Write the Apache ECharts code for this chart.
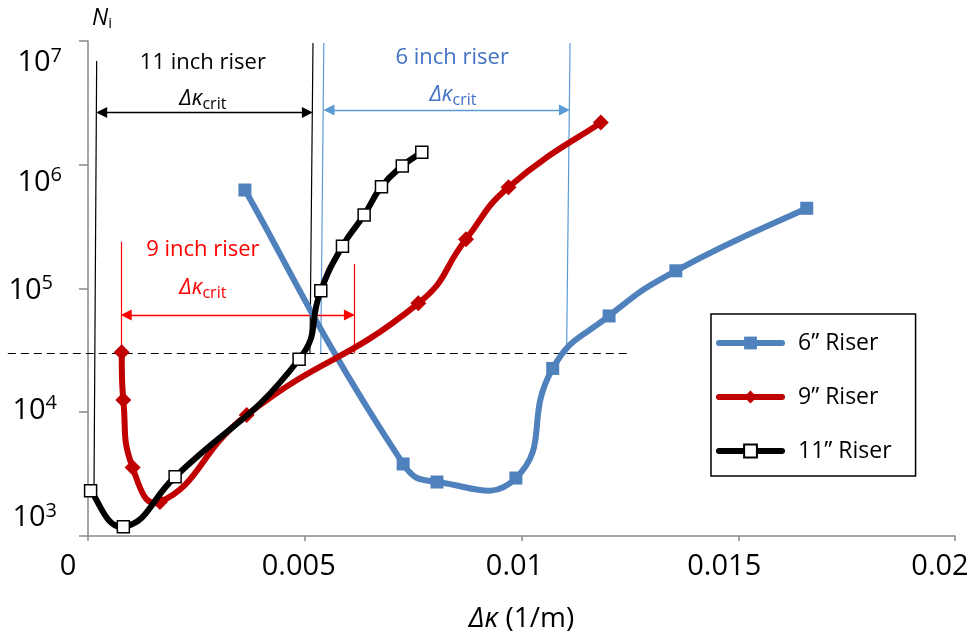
<!DOCTYPE html>
<html><head><meta charset="utf-8">
<script src="https://cdn.jsdelivr.net/npm/echarts@6/dist/echarts.min.js"></script>
<style>html,body{margin:0;padding:0;background:#fff}#c{width:973px;height:641px}</style>
</head><body><div id="c"></div>
<script>
const FONT = '"Open Sans", sans-serif';

// ---------- data ----------
const xTickLabels = ['0', '0.005', '0.01', '0.015', '0.02'];
const yTickExponents = ['3', '4', '5', '6', '7'];   // tick labels are 10^e

const seriesNames = ['6\u201D Riser', '9\u201D Riser', '11\u201D Riser'];

const riser6X = [0.00362, 0.00727, 0.00805, 0.00987, 0.01072, 0.01202, 0.01356, 0.01658];
const riser6N = [625000, 3820, 2730, 2940, 22600, 60000, 139000, 445000];

const riser9X = [0.000777, 0.000815, 0.00103, 0.00166, 0.00366, 0.00762, 0.00872, 0.00970, 0.01183];
const riser9N = [30500, 12560, 3570, 1885, 9500, 75900, 250000, 658000, 2190000];

const riser11X = [0.00006, 0.000815, 0.00201, 0.00487, 0.00537, 0.00587, 0.00637, 0.00677, 0.00725, 0.00770];
const riser11N = [2320, 1190, 3010, 26800, 95900, 220000, 393000, 665000, 977000, 1260000];

const thresholdN = 30000;
const thresholdX = [-0.00185, 0.01253];

// Δκ_crit guides: [xTop, NTop, xBottom, NBottom]
const guide11 = [[0.000200, 6.89e6, 0.000138, 2350], [0.00519, 9.64e6, 0.00512, 30000]];
const guide6  = [[0.00544, 9.64e6, 0.00537, 30000], [0.01112, 9.64e6, 0.01104, 30000]];
const guide9  = [[0.000761, 239000, 0.000761, 30000], [0.00615, 158000, 0.00615, 30000]];
// arrows: [xStart, xEnd, N]
const arrow11 = [0.000196, 0.00518, 2.64e6];
const arrow6  = [0.00544, 0.01111, 2.77e6];
const arrow9  = [0.000761, 0.00615, 61100];
// text anchors: [x, N]
const critTitles = ['11 inch riser', '6 inch riser', '9 inch riser'];
const titleAnchors = [[0.00265, 6.68e6], [0.0084, 7.3e6], [0.00265, 205000]];
const subAnchors   = [[0.00265, 3.4e6], [0.00842, 3.66e6], [0.00265, 101000]];

// ---------- styles ----------
const C6 = '#4F81BD', C9 = '#C00000', C11 = '#000000';
const G6 = '#5B9BD5', T6 = '#4472C4', G9 = '#FF0000', G11 = '#000000';
const xLabelShift = [-20, -6, -7, -14, -15];
const yLabelShift = {3: [-5, -18], 4: [-5, -2], 5: [-9, 2], 6: [0, 18], 7: [0, 22]}; // [dx, dy]
const arrowInset = 0.00012;
const smoothK = 0.5, endK = 0.25;

const pairs = (xs, ys) => xs.map((x, i) => [x, ys[i]]);

const xRich = {};
xLabelShift.forEach((s, i) => {
  xRich['x' + i] = {fontFamily: FONT, fontSize: 29, color: '#000',
    padding: [0, s < 0 ? -2 * s : 0, 0, s > 0 ? 2 * s : 0]};
});
const yRich = {};
const raise = 7;
yTickExponents.forEach(e => {
  const [dx, dy] = yLabelShift[e];
  const pt = dy > 0 ? 2 * dy : 0, pb = dy < 0 ? -2 * dy : 0;
  yRich['b' + e] = {fontFamily: FONT, fontSize: 29, color: '#000', padding: [pt, 0, pb, 0]};
  yRich['p' + e] = {fontFamily: FONT, fontSize: 20, color: '#000', padding: [pt, -dx, pb + 2 * raise, 0]};
});

const critRich = {
  t: {fontFamily: FONT, fontSize: 22},
  i: {fontFamily: FONT, fontSize: 22, fontStyle: 'italic'},
  s: {fontFamily: FONT, fontSize: 16, padding: [10, 0, 0, 0]}
};

function guideItems(arr, color) {
  return arr.map(g => ({coords: [[g[0], g[1]], [g[2], g[3]]], lineStyle: {color: color, width: 1.2, opacity: 1}}));
}
function arrowItem(a, color) {
  return {coords: [[a[0] + arrowInset, a[2]], [a[1] - arrowInset, a[2]]], lineStyle: {color: color, width: 1.3, opacity: 1}};
}
const textColors = [G11, T6, G9];
const textItems = [];
critTitles.forEach((t, i) => {
  textItems.push({value: titleAnchors[i], label: {formatter: '{t|' + t + '}', color: textColors[i]}});
  textItems.push({value: subAnchors[i], label: {formatter: '{i|\u0394\u03BA}{s|crit}', color: textColors[i]}});
});

// smooth curve through the data points (segment-length weighted Bezier), via the axes' scales
function controlPoints(pts) {
  const n = pts.length, after = [], before = [];
  const len = (a, b) => Math.hypot(b[0] - a[0], b[1] - a[1]);
  for (let i = 0; i < n; i++) {
    const p = pts[i];
    if (i === 0) {
      const q = pts[1];
      after.push([p[0] + (q[0] - p[0]) * endK, p[1] + (q[1] - p[1]) * endK]); before.push(p);
    } else if (i === n - 1) {
      const q = pts[n - 2];
      before.push([p[0] + (q[0] - p[0]) * endK, p[1] + (q[1] - p[1]) * endK]); after.push(p);
    } else {
      const a = pts[i - 1], b = pts[i + 1];
      const vx = b[0] - a[0], vy = b[1] - a[1];
      const l0 = len(a, p), l1 = len(p, b), r = l1 / (l0 + l1 || 1);
      after.push([p[0] + vx * smoothK * r, p[1] + vy * smoothK * r]);
      before.push([p[0] - vx * smoothK * (1 - r), p[1] - vy * smoothK * (1 - r)]);
    }
  }
  return {after, before};
}
function curveSeries(xs, ys, color, z) {
  return {
    type: 'custom', coordinateSystem: 'cartesian2d', silent: true, z: z, clip: false,
    data: [[xs[0], ys[0]]],
    renderItem: (params, api) => {
      const pts = xs.map((x, i) => api.coord([x, ys[i]]));
      const cp = controlPoints(pts), children = [];
      for (let i = 0; i < pts.length - 1; i++) {
        children.push({
          type: 'bezierCurve',
          shape: {
            x1: pts[i][0], y1: pts[i][1], x2: pts[i + 1][0], y2: pts[i + 1][1],
            cpx1: cp.after[i][0], cpy1: cp.after[i][1],
            cpx2: cp.before[i + 1][0], cpy2: cp.before[i + 1][1]
          },
          style: {stroke: color, lineWidth: 6, fill: null, lineCap: 'round', lineJoin: 'round'}
        });
      }
      return {type: 'group', children: children};
    }
  };
}

function markerSeries(name, xs, ys, color, symbol, size, itemStyle, z) {
  return {
    name: name, type: 'line', data: pairs(xs, ys), z: z,
    symbol: symbol, symbolSize: size, showSymbol: true, showAllSymbol: true,
    lineStyle: {color: color, width: 6, opacity: 0},
    itemStyle: itemStyle
  };
}

const legendColors = [C6, C9, C11];

const chart = echarts.init(document.getElementById('c'), null, {renderer: 'canvas'});
chart.setOption({
  animation: false,
  backgroundColor: '#fff',
  grid: {left: 88, right: 18, top: 41, bottom: 105, containLabel: false, outerBoundsMode: 'none'},
  legend: {
    orient: 'vertical', left: 711, top: 314,
    data: seriesNames.map((n, i) => ({name: n,
      lineStyle: {color: legendColors[i], width: 6, opacity: 1, cap: 'round'}})),
    itemWidth: 63, itemHeight: 16, itemGap: 30,
    padding: [17, 24, 13, 5],
    borderColor: '#000', borderWidth: 1.5, backgroundColor: '#fff',
    textStyle: {fontFamily: FONT, fontSize: 23, lineHeight: 24, color: '#000', padding: [0, 0, 0, 11]}
  },
  xAxis: {
    type: 'value', min: 0, max: 0.02, interval: 0.005,
    name: '{i|\u0394\u03BA} (1/m)', nameLocation: 'middle', nameGap: 69,
    nameTextStyle: {fontFamily: FONT, fontSize: 28, color: '#000',
      rich: {i: {fontFamily: FONT, fontSize: 28, fontStyle: 'italic', color: '#000'}}},
    axisLine: {show: true, onZero: false, lineStyle: {color: '#898989', width: 1.5}},
    axisTick: {show: true, length: 5, lineStyle: {color: '#898989', width: 1.5}},
    splitLine: {show: false},
    axisLabel: {margin: 16, formatter: v => {
      const i = Math.round(v / 0.005); return '{x' + i + '|' + xTickLabels[i] + '}';
    }, rich: xRich}
  },
  yAxis: {
    type: 'log', logBase: 10, min: 1000, max: 1e7,
    name: '{i|N}{s|i}', nameLocation: 'end', nameGap: 10,
    nameTextStyle: {align: 'left', padding: [0, 0, 0, 4],
      rich: {i: {fontFamily: FONT, fontSize: 23, fontStyle: 'italic', color: '#000'},
             s: {fontFamily: FONT, fontSize: 15, color: '#000', padding: [10, 0, 0, 0]}}},
    axisLine: {show: true, onZero: false, lineStyle: {color: '#898989', width: 1.5}},
    axisTick: {show: true, length: 9, lineStyle: {color: '#898989', width: 1.5}},
    splitLine: {show: false},
    axisLabel: {margin: 26, showMinLabel: true, showMaxLabel: true, formatter: v => {
      const e = String(Math.round(Math.log10(v)));
      return '{b' + e + '|10}{p' + e + '|' + e + '}';
    }, rich: yRich}
  },
  series: [
    {type: 'lines', coordinateSystem: 'cartesian2d', silent: true, clip: false, z: 1,
     symbol: 'none', lineStyle: {opacity: 1},
     data: [{coords: [[thresholdX[0], thresholdN], [thresholdX[1], thresholdN]],
             lineStyle: {color: '#000', width: 1.2, type: [8, 5], opacity: 1}}]
       .concat(guideItems(guide11, G11), guideItems(guide6, G6), guideItems(guide9, G9))},
    {type: 'lines', coordinateSystem: 'cartesian2d', silent: true, z: 1,
     symbol: ['triangle', 'triangle'], symbolSize: 11, lineStyle: {opacity: 1},
     data: [arrowItem(arrow11, G11), arrowItem(arrow6, G6), arrowItem(arrow9, G9)]},
    curveSeries(riser6X, riser6N, C6, 2),
    markerSeries(seriesNames[0], riser6X, riser6N, C6, 'rect', 13, {color: C6}, 3),
    curveSeries(riser9X, riser9N, C9, 4),
    markerSeries(seriesNames[1], riser9X, riser9N, C9, 'diamond', 16, {color: C9}, 5),
    curveSeries(riser11X, riser11N, C11, 6),
    markerSeries(seriesNames[2], riser11X, riser11N, C11, 'rect', 12,
      {color: '#fff', borderColor: '#000', borderWidth: 1.5}, 7),
    {type: 'scatter', data: textItems, symbolSize: 1, silent: true, z: 9,
     itemStyle: {color: 'rgba(0,0,0,0)', opacity: 1},
     label: {show: true, position: 'inside', opacity: 1, rich: critRich}}
  ]
});
</script></body></html>
